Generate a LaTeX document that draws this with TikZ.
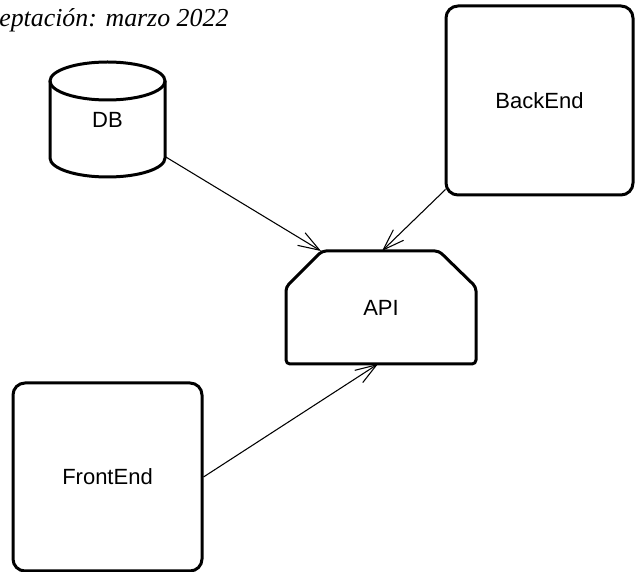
\documentclass[tikz,border=0pt]{standalone}
\usepackage{fontspec}
\setmainfont{Liberation Sans}
\newfontfamily\capfont{Liberation Serif}
\usetikzlibrary{arrows.meta,calc}
\begin{document}
\begin{tikzpicture}[x=0.75pt,y=0.75pt,
  box/.style={draw=black,line width=2.25pt,rounded corners=9pt,fill=white},
  lbl/.style={font=\fontsize{16.5pt}{19pt}\selectfont},
  conn/.style={draw=black,line width=0.8pt,-{Straight Barb[length=16pt,width=11pt,line width=0.8pt]}},
  ghost/.style={draw=none,inner sep=0pt,outer sep=0pt}]
\useasboundingbox[fill=white] (0,0) rectangle (640,572);
% caption fragment
\node[anchor=base west,inner sep=0pt,font=\capfont\itshape\fontsize{19.4pt}{22pt}\selectfont] (cap) at (-1,545) {eptación: marzo 2022};
% DB cylinder
\node[ghost,minimum width=86.25pt,minimum height=86.25pt,lbl] (db) at (107.5,452.5) {};
\draw[line width=2.25pt,fill=white] (50,491) -- (50,414) arc[start angle=180,end angle=360,x radius=43.125pt,y radius=14.25pt] -- (165,491);
\draw[line width=2.25pt] (107.5,491) ellipse[x radius=43.125pt,y radius=14.25pt];
\node[lbl] at (db.center) {DB};
% BackEnd
\node[box,lbl,minimum width=140.25pt,minimum height=141.75pt] (be) at (539.5,471.5) {BackEnd};
% FrontEnd
\node[box,lbl,minimum width=141.75pt,minimum height=141pt] (fe) at (107.5,95) {FrontEnd};
% API
\node[ghost,lbl,minimum width=142.5pt,minimum height=84.75pt] (api) at (381,264.5) {API};
\draw[line width=2.25pt,rounded corners=3pt,line join=round]
  ($(api.north west)+(36,0)$) -- ($(api.north east)+(-37,0)$) -- ($(api.north east)+(0,-36)$)
  -- (api.south east) -- (api.south west) -- ($(api.north west)+(0,-36)$) -- cycle;
% connectors
\draw[conn] ($(db.east)+(0,-37)$) -- ($(api.north west)+(35,0)$);
\draw[conn] ($(be.south west)+(1,7)$) -- ($(api.north)+(1,0)$);
\draw[conn] (fe.east) -- ($(api.south)+(-3,0)$);
\end{tikzpicture}
\end{document}
